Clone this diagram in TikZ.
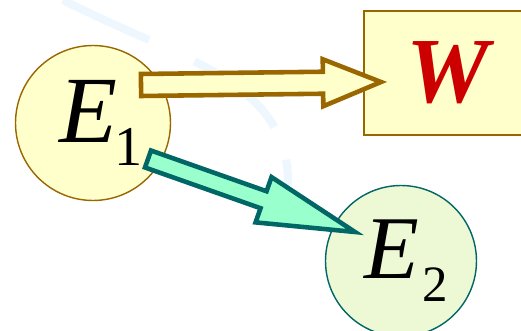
\documentclass[tikz,border=0pt]{standalone}
\usepackage{fontspec}
\setmainfont{Liberation Serif}
\newfontfamily\timesfont{Liberation Serif}
\usetikzlibrary{calc}

\definecolor{brownline}{HTML}{996600}
\definecolor{paleyellow}{HTML}{FFFFCC}
\definecolor{tealline}{HTML}{006666}
\definecolor{mint}{HTML}{99FFCC}
\definecolor{palegreen}{HTML}{EDF9D5}
\definecolor{workred}{HTML}{CC0000}
\definecolor{swooshblue}{HTML}{EEF7FE}

% block arrow: style, start, tip, shaft half width, head half width, head length
\newcommand{\blockarrow}[6]{%
  \coordinate (hb) at ($(#3)!#6!(#2)$);
  \draw[#1] ($(#2)!#4!90:(#3)$) -- ($(hb)!#4!-90:(#2)$) -- ($(hb)!#5!-90:(#2)$)
    -- (#3) -- ($(hb)!#5!90:(#2)$) -- ($(hb)!#4!90:(#2)$) -- ($(#2)!#4!-90:(#3)$) -- cycle;
}

\tikzset{
  energy/.style={circle, inner sep=0pt, minimum size=3.1cm, line width=0.8pt},
  fatarrow/.style={line width=2.6pt, line join=miter, miter limit=10},
}

\begin{document}
\begin{tikzpicture}[x=0.02cm, y=-0.02cm]
  % frame
  \clip (0,0) rectangle (521,331);
  \fill[white] (0,0) rectangle (521,331);
  % faint background swoosh
  \draw[swooshblue, line width=0.16cm, dash pattern=on 1.9cm off 1.0cm on 2.1cm off 0.7cm on 0.8cm off 2cm]
    (63,0) .. controls (180,60) and (290,80) .. (288,185);

  % energy circles and work box
  \node[energy, draw=brownline, fill=paleyellow, font=\timesfont] (e1) at (93,123)
    {\hspace*{9pt}\fontsize{54}{54}\selectfont\itshape E\kern-2pt\raisebox{-13pt}{\fontsize{32}{32}\selectfont\upshape 1}};
  \node[energy, draw=tealline, fill=palegreen, minimum size=3.02cm, font=\timesfont] (e2) at (401,261)
    {\hspace*{6pt}\fontsize{51}{51}\selectfont\itshape E\kern2pt\raisebox{-13pt}{\fontsize{29}{29}\selectfont\upshape 2}};
  \node[draw=brownline, fill=paleyellow, line width=1pt, minimum width=3.36cm, minimum height=2.48cm,
    inner sep=0pt, text=workred, font=\timesfont\fontsize{53}{53}\selectfont\bfseries\itshape] (w) at (448,73)
    {\raisebox{-3pt}{W}};

  % arrow ends
  \coordinate (wOut) at (141,85);
  \coordinate (wIn) at (381,82);
  \coordinate (e2Out) at (148,159);
  \coordinate (e2In) at (355,232);

  % energy to work
  \blockarrow{fatarrow, draw=brownline, fill=paleyellow}{wOut}{wIn}{0.22cm}{0.47cm}{1.16cm}
  % energy to E2
  \blockarrow{fatarrow, draw=tealline, fill=mint}{e2Out}{e2In}{0.18cm}{0.48cm}{1.94cm}
\end{tikzpicture}
\end{document}
